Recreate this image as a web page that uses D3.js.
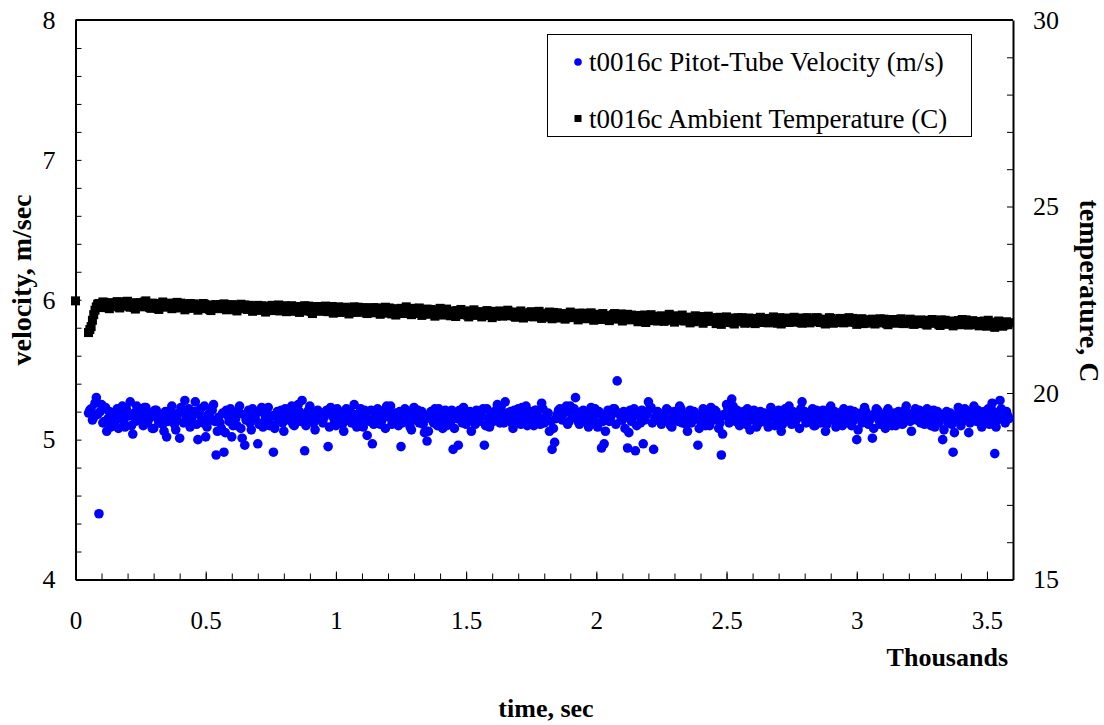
<!DOCTYPE html>
<html>
<head>
<meta charset="utf-8">
<script src="https://cdn.jsdelivr.net/npm/d3@7"></script>
<style>
  body { margin: 0; background: #fff; }
  svg { display: block; font-family: "Liberation Serif", "Times New Roman", serif; }
  .axis path, .axis line { stroke: #000; }
  .axis text { fill: #000; font-family: "Liberation Serif", "Times New Roman", serif; }
</style>
</head>
<body>
<div id="chart"></div>
<script>
// logger sampling (seconds): one reading at 0 s, then every 5 s from 50 s.
// "A" arrays hold the readings at 50, 60, 70 ... s, "B" arrays those at 55, 65, 75 ... s
const firstSample = 0;
const sampleStartA = 50;
const sampleStartB = 55;
const sampleStep = 10;

// t0016c Pitot-Tube Velocity (m/s)
const velocityA = [
  5.19, 5.22, 5.16, 5.30, 4.47, 5.25, 5.13, 5.06, 5.20, 5.17,
  5.11, 5.22, 5.15, 5.24, 5.09, 5.18, 5.27, 5.04, 5.13, 5.20,
  5.16, 5.10, 5.23, 5.14, 5.19, 5.08, 5.21, 5.12, 5.17, 5.06,
  5.02, 5.18, 5.24, 5.11, 5.15, 5.01, 5.20, 5.28, 5.13, 5.09,
  5.17, 5.27, 5.00, 5.22, 5.12, 5.02, 5.18, 5.14, 5.25, 4.89,
  5.16, 5.08, 4.91, 5.21, 5.13, 5.02, 5.19, 5.10, 5.24, 5.01,
  4.96, 5.18, 5.12, 5.22, 5.15, 4.97, 5.20, 5.09, 5.16, 5.23,
  5.11, 4.91, 5.17, 5.13, 5.21, 5.06, 5.19, 5.14, 5.24, 5.10,
  5.16, 5.20, 5.28, 4.92, 5.13, 5.24, 5.18, 5.07, 5.21, 5.15,
  5.12, 5.19, 4.95, 5.23, 5.16, 5.10, 5.20, 5.14, 5.06, 5.22,
  5.17, 5.12, 5.25, 5.09, 5.19, 5.15, 5.21, 5.03, 5.13, 4.97,
  5.18, 5.22, 5.11, 5.16, 5.08, 5.20, 5.24, 5.14, 5.19, 5.10,
  4.95, 5.17, 5.21, 5.13, 5.07, 5.23, 5.16, 5.12, 5.20, 5.05,
  4.99, 5.18, 5.14, 5.22, 5.10, 5.17, 5.08, 5.21, 5.15, 5.12,
  4.93, 5.19, 4.96, 5.16, 5.23, 5.11, 5.18, 5.06, 5.14, 5.21,
  5.13, 5.17, 4.96, 5.22, 5.09, 5.19, 5.15, 5.25, 5.12, 5.18,
  5.27, 5.14, 5.20, 5.08, 5.16, 5.22, 5.11, 5.18, 5.24, 5.13,
  5.19, 5.10, 5.21, 5.15, 5.26, 5.12, 5.17, 5.06, 4.93, 4.98,
  5.18, 5.22, 5.14, 5.20, 5.11, 5.24, 5.16, 5.30, 5.13, 5.19,
  5.21, 5.15, 5.09, 5.23, 5.17, 5.12, 5.20, 4.94, 4.97, 5.16,
  5.13, 5.19, 5.22, 5.42, 5.18, 5.14, 5.08, 4.94, 5.21, 5.16,
  4.92, 5.20, 5.12, 4.97, 5.17, 5.27, 5.23, 4.93, 5.15, 5.19,
  5.11, 5.18, 5.22, 5.14, 5.09, 5.20, 5.16, 5.24, 5.12, 5.18,
  5.06, 5.21, 5.15, 5.19, 4.96, 5.13, 5.22, 5.10, 5.17, 5.23,
  5.14, 5.20, 5.08, 4.89, 5.18, 5.25, 5.12, 5.29, 5.16, 5.21,
  5.10, 5.17, 5.13, 5.22, 5.07, 5.19, 5.15, 5.11, 5.20, 5.14,
  5.18, 5.09, 5.23, 5.16, 5.12, 5.21, 5.06, 5.17, 5.14, 5.24,
  5.11, 5.19, 5.15, 5.08, 5.27, 5.20, 5.13, 5.17, 5.22, 5.10,
  5.16, 5.12, 5.21, 5.06, 5.18, 5.24, 5.14, 5.09, 5.19, 5.15,
  5.22, 5.13, 5.17, 5.10, 5.20, 5.00, 5.16, 5.12, 5.23, 5.18,
  5.14, 5.01, 5.19, 5.21, 5.11, 5.16, 5.08, 5.22, 5.13, 5.18,
  5.10, 5.20, 5.15, 5.12, 5.24, 5.17, 5.06, 5.19, 5.14, 5.21,
  5.16, 5.11, 5.22, 5.13, 5.18, 5.09, 5.20, 5.15, 5.00, 5.17,
  5.12, 5.19, 4.91, 5.14, 5.23, 5.10, 5.17, 5.21, 5.05, 5.15,
  5.24, 5.13, 5.18, 5.09, 5.20, 5.16, 5.11, 5.26, 4.90, 5.14,
  5.28, 5.19, 5.12, 5.17
];
const velocityB = [
  5.21, 5.14, 5.26, 5.18, 5.20, 5.12, 5.23, 5.15, 5.09, 5.19,
  5.16, 5.08, 5.20, 5.13, 5.22, 5.17, 5.10, 5.19, 5.24, 5.14,
  5.19, 5.23, 5.12, 5.17, 5.08, 5.21, 5.15, 5.18, 5.11, 5.20,
  5.13, 5.21, 5.16, 5.07, 5.19, 5.23, 5.12, 5.17, 5.22, 5.15,
  5.20, 5.11, 5.18, 5.14, 5.24, 5.09, 5.16, 5.21, 5.13, 5.06,
  5.12, 5.19, 5.05, 5.17, 5.22, 5.10, 5.15, 5.20, 5.08, 5.18,
  5.14, 5.21, 5.07, 5.16, 5.19, 5.11, 5.23, 5.13, 5.18, 5.10,
  5.17, 5.08, 5.20, 5.15, 5.12, 5.22, 5.16, 5.19, 5.11, 5.21,
  5.25, 5.13, 5.18, 5.10, 5.21, 5.16, 5.12, 5.20, 5.15, 5.19,
  5.16, 5.21, 5.09, 5.18, 5.13, 5.22, 5.15, 5.11, 5.19, 5.14,
  5.20, 5.15, 5.18, 5.12, 5.22, 5.09, 5.17, 5.14, 5.21, 5.11,
  5.15, 5.19, 5.13, 5.21, 5.24, 5.16, 5.11, 5.18, 5.14, 5.20,
  5.12, 5.22, 5.16, 5.09, 5.19, 5.14, 5.21, 5.17, 5.11, 5.15,
  5.06, 5.20, 5.12, 5.17, 5.22, 5.14, 5.19, 5.10, 5.16, 5.21,
  5.08, 5.15, 5.21, 5.12, 5.18, 5.14, 5.20, 5.16, 5.11, 5.19,
  5.17, 5.22, 5.10, 5.15, 5.19, 5.13, 5.21, 5.16, 5.24, 5.12,
  5.19, 5.16, 5.12, 5.21, 5.14, 5.18, 5.23, 5.15, 5.10, 5.20,
  5.14, 5.21, 5.17, 5.11, 5.22, 5.16, 5.19, 5.13, 5.08, 5.15,
  5.21, 5.15, 5.19, 5.24, 5.13, 5.18, 5.22, 5.16, 5.11, 5.20,
  5.17, 5.12, 5.20, 5.15, 5.22, 5.09, 5.18, 5.13, 5.06, 5.21,
  5.16, 5.22, 5.11, 5.19, 5.14, 5.20, 5.17, 5.05, 5.13, 5.22,
  5.10, 5.17, 5.21, 5.14, 5.19, 5.22, 5.12, 5.16, 5.20, 5.13,
  5.18, 5.14, 5.21, 5.10, 5.16, 5.19, 5.13, 5.22, 5.15, 5.11,
  5.16, 5.12, 5.20, 5.15, 5.08, 5.18, 5.14, 5.21, 5.10, 5.19,
  5.21, 5.15, 5.12, 5.04, 5.17, 5.22, 5.19, 5.24, 5.13, 5.18,
  5.15, 5.20, 5.11, 5.18, 5.14, 5.21, 5.09, 5.16, 5.13, 5.19,
  5.12, 5.17, 5.21, 5.10, 5.19, 5.15, 5.11, 5.22, 5.18, 5.14,
  5.20, 5.13, 5.18, 5.22, 5.16, 5.12, 5.19, 5.15, 5.10, 5.21,
  5.13, 5.19, 5.16, 5.11, 5.22, 5.15, 5.20, 5.12, 5.17, 5.10,
  5.18, 5.15, 5.21, 5.13, 5.16, 5.07, 5.19, 5.14, 5.20, 5.11,
  5.16, 5.08, 5.22, 5.14, 5.18, 5.12, 5.20, 5.15, 5.10, 5.19,
  5.14, 5.17, 5.11, 5.21, 5.16, 5.13, 5.19, 5.22, 5.15, 5.12,
  5.19, 5.14, 5.17, 5.10, 5.21, 5.15, 5.12, 5.18, 5.07, 5.20,
  5.15, 5.11, 5.05, 5.18, 5.20, 5.13, 5.22, 5.16, 5.12, 5.19,
  5.17, 5.21, 5.14, 5.19, 5.12, 5.22, 5.15, 5.20, 5.09, 5.17,
  5.22, 5.16, 5.20, 5.15
];

// t0016c Ambient Temperature (C)
const temperatureFirst = 22.47;
const temperatureA = [
  21.62, 21.78, 22.10, 22.31, 22.40, 22.29, 22.43, 22.35, 22.26, 22.41,
  22.33, 22.45, 22.28, 22.39, 22.34, 22.46, 22.30, 22.41, 22.25, 22.37,
  22.42, 22.31, 22.47, 22.36, 22.27, 22.40, 22.33, 22.24, 22.35, 22.39,
  22.30, 22.41, 22.26, 22.37, 22.43, 22.29, 22.38, 22.23, 22.34, 22.40,
  22.28, 22.36, 22.22, 22.33, 22.40, 22.27, 22.35, 22.21, 22.31, 22.37,
  22.26, 22.34, 22.39, 22.23, 22.32, 22.37, 22.25, 22.20, 22.33, 22.29,
  22.36, 22.24, 22.31, 22.19, 22.28, 22.35, 22.22, 22.30, 22.17, 22.27,
  22.33, 22.21, 22.29, 22.36, 22.23, 22.31, 22.18, 22.26, 22.34, 22.22,
  22.29, 22.16, 22.27, 22.34, 22.20, 22.30, 22.13, 22.25, 22.32, 22.19,
  22.27, 22.33, 22.18, 22.28, 22.14, 22.24, 22.31, 22.17, 22.26, 22.21,
  22.12, 22.25, 22.31, 22.16, 22.27, 22.19, 22.29, 22.13, 22.22, 22.26,
  22.15, 22.28, 22.11, 22.23, 22.30, 22.14, 22.25, 22.18, 22.09, 22.22,
  22.27, 22.13, 22.31, 22.19, 22.10, 22.24, 22.16, 22.28, 22.08, 22.20,
  22.25, 22.11, 22.22, 22.06, 22.18, 22.27, 22.09, 22.21, 22.14, 22.07,
  22.20, 22.05, 22.16, 22.24, 22.10, 22.19, 22.04, 22.15, 22.23, 22.08,
  22.17, 22.04, 22.13, 22.21, 22.08, 22.02, 22.18, 22.11, 22.20, 22.06,
  22.15, 22.22, 22.07, 22.17, 22.03, 22.12, 22.20, 22.01, 22.14, 22.09,
  22.18, 22.04, 22.11, 22.19, 22.00, 22.13, 22.07, 22.17, 21.99, 22.10,
  22.15, 22.01, 22.09, 21.98, 22.08, 22.17, 22.03, 22.12, 21.96, 22.07,
  22.14, 21.99, 22.06, 22.15, 21.95, 22.05, 22.11, 21.97, 22.08, 22.02,
  21.94, 22.07, 22.13, 21.98, 22.09, 21.93, 22.04, 22.11, 21.96, 22.06,
  22.02, 21.91, 22.08, 21.99, 21.89, 22.03, 22.10, 21.94, 22.05, 21.97,
  22.07, 21.92, 22.01, 22.11, 21.96, 21.90, 22.04, 21.98, 22.09, 21.93,
  22.03, 21.88, 22.00, 22.07, 21.93, 22.02, 21.87, 21.97, 22.06, 21.92,
  22.01, 21.86, 21.96, 21.84, 21.94, 22.04, 21.89, 21.99, 21.85, 21.95,
  21.92, 22.02, 21.87, 21.98, 21.91, 22.00, 21.86, 21.95, 22.03, 21.89,
  21.97, 21.88, 21.99, 22.04, 21.90, 21.98, 21.85, 21.94, 22.01, 21.89,
  21.96, 22.03, 21.90, 21.99, 21.87, 21.95, 22.02, 21.88, 21.97, 21.92,
  22.01, 21.89, 21.96, 21.85, 21.93, 22.00, 21.87, 21.95, 21.91, 21.99,
  21.88, 21.96, 22.02, 21.90, 21.97, 21.84, 21.93, 21.99, 21.87, 21.95,
  21.91, 21.98, 21.85, 21.94, 21.99, 21.88, 21.95, 21.83, 21.92, 21.97,
  21.87, 21.93, 21.99, 21.86, 21.95, 21.89, 21.96, 21.84, 21.91, 21.94,
  21.86, 21.93, 21.82, 21.91, 21.97, 21.87, 21.92, 21.81, 21.89, 21.95,
  21.84, 21.91, 21.80, 21.88, 21.94, 21.83, 21.90, 21.96, 21.82, 21.89,
  21.85, 21.92, 21.80, 21.87, 21.93, 21.79, 21.86, 21.90, 21.76, 21.84,
  21.89, 21.79, 21.86, 21.83
];
const temperatureB = [
  21.70, 21.95, 22.22, 22.38, 22.33, 22.44, 22.37, 22.29, 22.42, 22.36,
  22.40, 22.31, 22.43, 22.36, 22.45, 22.32, 22.38, 22.29, 22.42, 22.35,
  22.37, 22.44, 22.32, 22.29, 22.41, 22.36, 22.27, 22.39, 22.44, 22.33,
  22.38, 22.32, 22.40, 22.28, 22.36, 22.41, 22.31, 22.37, 22.27, 22.35,
  22.39, 22.30, 22.35, 22.26, 22.38, 22.32, 22.24, 22.36, 22.29, 22.33,
  22.37, 22.28, 22.32, 22.35, 22.27, 22.31, 22.23, 22.34, 22.38, 22.26,
  22.31, 22.35, 22.26, 22.33, 22.22, 22.30, 22.34, 22.25, 22.32, 22.28,
  22.35, 22.26, 22.32, 22.20, 22.30, 22.34, 22.24, 22.29, 22.19, 22.31,
  22.25, 22.32, 22.21, 22.29, 22.33, 22.18, 22.27, 22.31, 22.22, 22.28,
  22.31, 22.20, 22.27, 22.32, 22.22, 22.29, 22.16, 22.25, 22.30, 22.24,
  22.28, 22.19, 22.26, 22.30, 22.21, 22.25, 22.15, 22.27, 22.18, 22.29,
  22.23, 22.17, 22.27, 22.19, 22.24, 22.28, 22.12, 22.21, 22.26, 22.16,
  22.21, 22.26, 22.15, 22.22, 22.27, 22.13, 22.20, 22.24, 22.17, 22.23,
  22.19, 22.24, 22.14, 22.20, 22.11, 22.22, 22.17, 22.25, 22.10, 22.18,
  22.14, 22.21, 22.11, 22.19, 22.15, 22.09, 22.20, 22.12, 22.17, 22.13,
  22.11, 22.18, 22.15, 22.08, 22.16, 22.19, 22.06, 22.14, 22.10, 22.17,
  22.10, 22.17, 22.13, 22.06, 22.16, 22.09, 22.14, 22.11, 22.05, 22.15,
  22.12, 22.08, 22.15, 22.06, 22.14, 22.10, 22.03, 22.12, 22.16, 22.05,
  22.10, 22.05, 22.13, 22.08, 22.02, 22.11, 22.09, 22.04, 22.14, 22.01,
  22.08, 22.04, 22.12, 22.00, 22.07, 22.10, 22.02, 22.13, 22.05, 21.99,
  22.04, 22.10, 22.00, 22.06, 22.12, 21.98, 22.08, 22.02, 22.09, 21.99,
  22.06, 21.97, 22.04, 22.09, 21.96, 22.01, 22.06, 21.99, 21.93, 22.03,
  22.00, 22.05, 21.95, 22.02, 22.07, 21.97, 22.01, 22.06, 21.94, 22.00,
  21.96, 22.03, 21.91, 22.01, 21.97, 22.05, 21.93, 22.00, 21.95, 22.02,
  21.94, 21.99, 22.03, 21.90, 21.98, 21.92, 22.01, 21.88, 21.97, 22.02,
  21.98, 21.91, 21.96, 22.01, 21.88, 21.94, 21.99, 21.92, 21.90, 21.97,
  21.93, 22.00, 21.91, 21.95, 21.87, 22.02, 21.93, 21.98, 21.90, 21.96,
  22.00, 21.92, 21.97, 21.89, 22.01, 21.93, 21.98, 21.91, 21.96, 22.02,
  21.94, 21.98, 21.88, 21.97, 22.02, 21.91, 21.96, 21.89, 22.00, 21.93,
  21.97, 21.91, 21.95, 22.00, 21.89, 21.94, 21.98, 21.86, 21.96, 21.91,
  21.95, 21.87, 21.97, 21.90, 21.93, 21.98, 21.86, 21.92, 21.96, 21.89,
  21.92, 21.97, 21.88, 21.93, 21.90, 21.98, 21.85, 21.94, 21.89, 21.96,
  21.91, 21.85, 21.95, 21.88, 21.93, 21.90, 21.84, 21.96, 21.92, 21.87,
  21.90, 21.86, 21.93, 21.85, 21.91, 21.97, 21.87, 21.92, 21.84, 21.94,
  21.88, 21.83, 21.91, 21.86, 21.82, 21.95, 21.84, 21.89, 21.81, 21.93,
  21.86, 21.82, 21.91, 21.88
];

const seriesNames = ["t0016c Pitot-Tube Velocity (m/s)", "t0016c Ambient Temperature (C)"];
const xTicks = [0, 0.5, 1, 1.5, 2, 2.5, 3, 3.5];
const vTicks = [4, 5, 6, 7, 8];
const tTicks = [15, 20, 25, 30];

(function () {
  const w = 1104;
  const h = 725;
  const left = 75.5, right = 1013, top = 20, bottom = 579.5;
  const serif = "'Liberation Serif', 'Times New Roman', serif";

  const toPoints = (arr, start) => arr.map((v, i) => ({ t: start + i * sampleStep, v: v }));
  const velPoints = toPoints(velocityA, sampleStartA).concat(toPoints(velocityB, sampleStartB))
    .sort((a, b) => a.t - b.t);
  const tempPoints = [{ t: firstSample, v: temperatureFirst }]
    .concat(toPoints(temperatureA, sampleStartA), toPoints(temperatureB, sampleStartB))
    .sort((a, b) => a.t - b.t);

  const xScale = d3.scaleLinear().domain([0, 3.6]).range([left, right]);
  const yVel = d3.scaleLinear().domain([4, 8]).range([bottom, top]);
  const yTemp = d3.scaleLinear().domain([15, 30]).range([bottom, top]);

  const svg = d3.select("#chart")
    .append("svg")
    .attr("width", w)
    .attr("height", h);

  // x axis: minor ticks every 0.1 (inside), labels every 0.5
  const xMinor = d3.range(0, 36).map((d) => d / 10);
  svg.append("g")
    .attr("class", "axis")
    .attr("transform", `translate(0, ${bottom})`)
    .call(d3.axisBottom(xScale).tickValues(xMinor).tickSize(-6).tickSizeOuter(0).tickFormat(""))
    .call((g) => g.select(".domain").remove());

  svg.append("g")
    .attr("class", "axis")
    .attr("transform", `translate(0, ${bottom})`)
    .call(d3.axisBottom(xScale).tickValues(xTicks).tickSize(-8).tickSizeOuter(0).tickPadding(32).tickFormat(d3.format("")))
    .call((g) => g.select(".domain").attr("stroke-width", 2))
    .selectAll("text").style("font-size", "25px").style("font-family", serif);

  // left axis: ticks every 0.2
  const vMinor = d3.range(20, 41).map((d) => d / 5);
  svg.append("g")
    .attr("class", "axis")
    .attr("transform", `translate(${left}, 0)`)
    .call(d3.axisLeft(yVel).tickValues(vMinor).tickSize(-6).tickSizeOuter(0).tickPadding(20)
      .tickFormat((d) => vTicks.includes(Math.round(d * 100) / 100) ? d3.format("")(d) : ""))
    .call((g) => g.select(".domain").attr("stroke-width", 2))
    .selectAll("text").style("font-size", "26px").style("font-family", serif);

  // right axis: ticks every 1 C
  svg.append("g")
    .attr("class", "axis")
    .attr("transform", `translate(${right}, 0)`)
    .call(d3.axisRight(yTemp).tickValues(d3.range(15, 31)).tickSize(-6).tickSizeOuter(0).tickPadding(20)
      .tickFormat((d) => tTicks.includes(d) ? d : ""))
    .call((g) => g.select(".domain").attr("stroke-width", 2))
    .selectAll("text").style("font-size", "26px").style("font-family", serif);

  // top frame line
  svg.append("line")
    .attr("x1", left).attr("x2", right)
    .attr("y1", top).attr("y2", top)
    .attr("stroke", "#000").attr("stroke-width", 2);

  svg.selectAll("rect.temp")
    .data(tempPoints)
    .enter()
    .append("rect")
    .attr("class", "temp")
    .attr("x", (d) => xScale(d.t / 1000) - 4.5)
    .attr("y", (d) => yTemp(d.v) - 4.5)
    .attr("width", 9)
    .attr("height", 9)
    .attr("fill", "#000");

  svg.selectAll("circle.vel")
    .data(velPoints)
    .enter()
    .append("circle")
    .attr("class", "vel")
    .attr("cx", (d) => xScale(d.t / 1000))
    .attr("cy", (d) => yVel(d.v))
    .attr("r", 4.8)
    .attr("fill", "#0000ff");

  // legend
  const legend = svg.append("g");
  legend.append("rect")
    .attr("x", 547.5).attr("y", 34.5)
    .attr("width", 424).attr("height", 102)
    .attr("fill", "#fff").attr("stroke", "#000").attr("stroke-width", 1);
  legend.append("circle")
    .attr("cx", 578).attr("cy", 62).attr("r", 3.8).attr("fill", "#0000ff");
  legend.append("rect")
    .attr("x", 574.5).attr("y", 115).attr("width", 7).attr("height", 7).attr("fill", "#000");
  legend.selectAll("text")
    .data(seriesNames)
    .enter()
    .append("text")
    .attr("x", 589)
    .attr("y", (d, i) => 71 + i * 57)
    .style("font-size", "27px")
    .text((d) => d);

  // axis titles
  svg.append("text")
    .attr("x", 1008).attr("y", 666)
    .attr("text-anchor", "end")
    .style("font-size", "26px").style("font-weight", "bold")
    .text("Thousands");

  svg.append("text")
    .attr("x", 546).attr("y", 717)
    .attr("text-anchor", "middle")
    .style("font-size", "26px").style("font-weight", "bold")
    .text("time, sec");

  svg.append("text")
    .attr("transform", "translate(31, 280) rotate(-90)")
    .attr("text-anchor", "middle")
    .style("font-size", "28px").style("font-weight", "bold")
    .text("velocity, m/sec");

  svg.append("text")
    .attr("transform", "translate(1080, 291) rotate(90)")
    .attr("text-anchor", "middle")
    .style("font-size", "28px").style("font-weight", "bold")
    .text("temperature, C");
})();
</script>
</body>
</html>
